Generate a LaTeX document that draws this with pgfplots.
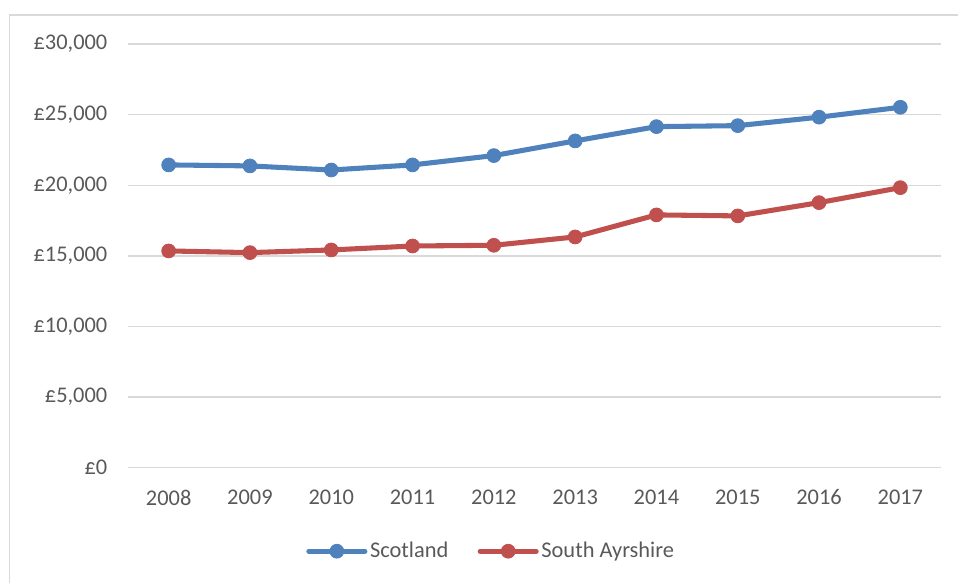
\documentclass[border=0pt]{standalone}
\usepackage{pgfplots}
\pgfplotsset{compat=1.18}
\usepackage{fontspec}
\setmainfont{Carlito}
\definecolor{scot}{HTML}{4F81BD}
\definecolor{sayr}{HTML}{C0504D}
\definecolor{gridc}{HTML}{D9D9D9}
\definecolor{txt}{HTML}{595959}
\begin{document}
\begin{tikzpicture}
% page is 958x583 px at 0.75pt per px
\useasboundingbox (0pt,0pt) rectangle (718.5pt,-437.25pt);
\draw[gridc,line width=1.1pt] (7.1pt,-437.25pt) -- (7.1pt,-11.2pt) -- (718.5pt,-11.2pt);
\begin{axis}[
    at={(96pt,-350.8pt)}, anchor=south west,
    scale only axis,
    width=609.75pt, height=317.8pt,
    xmin=2007.5, xmax=2017.5,
    ymin=0, ymax=30000,
    scaled ticks=false,
    xtick={2008,2009,2010,2011,2012,2013,2014,2015,2016,2017},
    xticklabels={2008,2009,2010,2011,2012,2013,2014,2015,2016,2017},
    ytick={0,5000,10000,15000,20000,25000,30000},
    yticklabels={{£0},{£5,000},{£10,000},{£15,000},{£20,000},{£25,000},{£30,000}},
    axis line style={draw=none},
    major tick length=0pt,
    ymajorgrids,
    grid style={gridc, line width=1pt},
    tick label style={font=\fontsize{16.8}{20}\selectfont, text=txt},
    yticklabel style={xshift=-12pt},
    xticklabel style={yshift=-13pt},
    legend columns=2,
    legend style={draw=none, fill=none, inner sep=0pt,
        at={(axis description cs:0.219,-0.197)}, anchor=west,
        font=\fontsize{16.8}{20}\selectfont, text=txt,
        /tikz/every even column/.append style={column sep=20pt}},
    legend cell align=left,
    legend image code/.code={\draw[mark repeat=2,mark phase=2] plot coordinates {(0pt,0pt) (21pt,0pt) (42pt,0pt)};},
]
\addplot[scot, line width=3.8pt, line join=round, line cap=round,
    mark=*, mark size=5.2pt, mark options={fill=scot, line width=0.6pt}]
coordinates {
(2008,21440) (2009,21370) (2010,21080) (2011,21440) (2012,22100)
(2013,23140) (2014,24150) (2015,24220) (2016,24820) (2017,25520)
};
\addlegendentry{Scotland}
\addplot[sayr, line width=3.8pt, line join=round, line cap=round,
    mark=*, mark size=5.2pt, mark options={fill=sayr, line width=0.6pt}]
coordinates {
(2008,15350) (2009,15230) (2010,15420) (2011,15700) (2012,15750)
(2013,16340) (2014,17900) (2015,17830) (2016,18770) (2017,19830)
};
\addlegendentry{South Ayrshire}
\end{axis}
\end{tikzpicture}
\end{document}
